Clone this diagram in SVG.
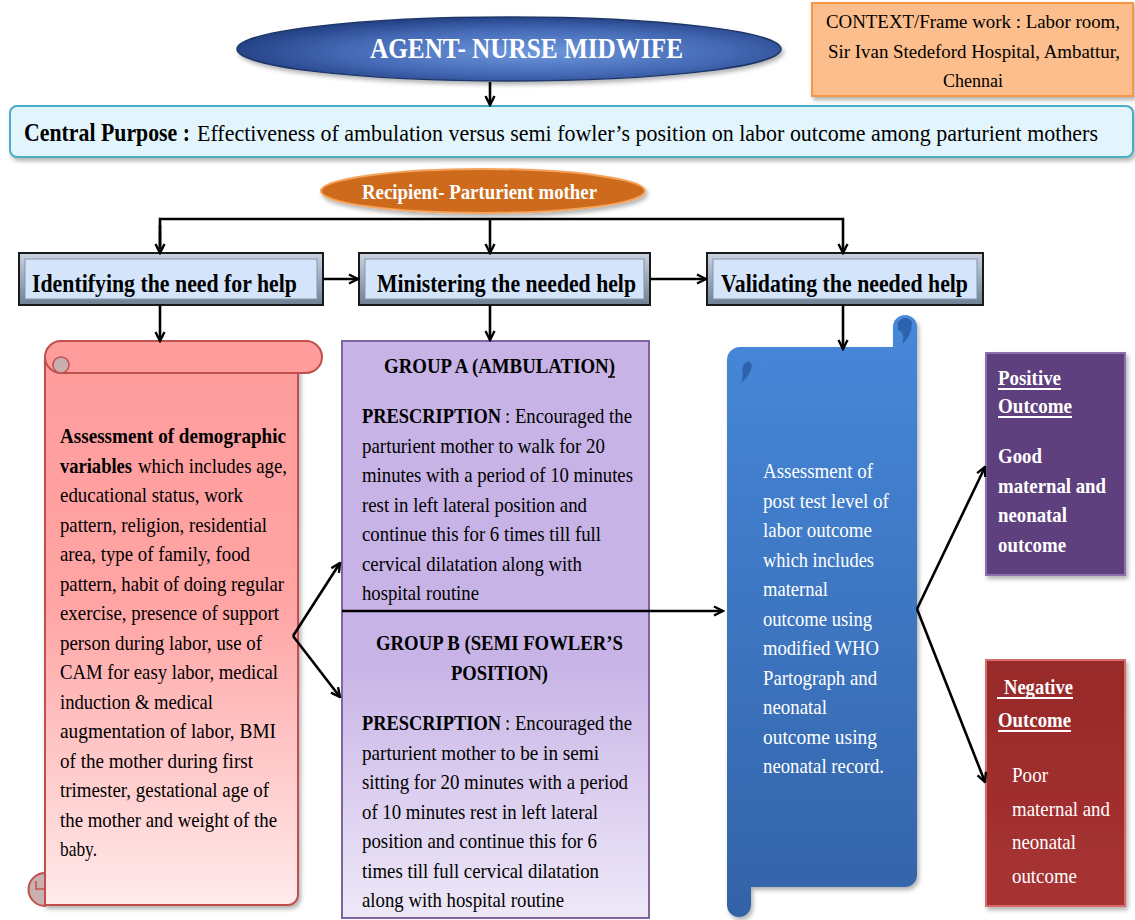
<svg xmlns="http://www.w3.org/2000/svg" width="1135" height="920" viewBox="0 0 1135 920">
<style>
  text { font-family: "Liberation Serif", "Times New Roman", serif; }
  .b { font-weight: bold; }
  .body { font-size: 22px; fill: #000; }
  .wbody { font-size: 22px; fill: #fff; }
  .proc { font-size: 25px; font-weight: bold; fill: #000; }
  .conn { fill: none; stroke: #000; stroke-width: 2.6; }
  .ul { stroke: #fff; stroke-width: 2; }
</style>
<defs>
  <marker id="ah" viewBox="0 0 12 12" refX="10.5" refY="6" markerWidth="12" markerHeight="12" markerUnits="userSpaceOnUse" orient="auto">
    <path d="M1.5,1.5 L10.5,6 L1.5,10.5" fill="none" stroke="#000" stroke-width="2.4" stroke-linejoin="miter"/>
  </marker>
  <radialGradient id="gAgent" cx="0.55" cy="0.55" r="0.6">
    <stop offset="0" stop-color="#6d98dd"/>
    <stop offset="0.6" stop-color="#4468b4"/>
    <stop offset="1" stop-color="#1d3a7c"/>
  </radialGradient>
  <linearGradient id="gRed" x1="0" y1="0" x2="0" y2="1">
    <stop offset="0" stop-color="#ff9c9c"/>
    <stop offset="0.45" stop-color="#ffa4a4"/>
    <stop offset="1" stop-color="#ffeaeb"/>
  </linearGradient>
  <linearGradient id="gPurple" x1="0" y1="0" x2="0" y2="1">
    <stop offset="0" stop-color="#c7b3e6"/>
    <stop offset="0.55" stop-color="#c7b3e6"/>
    <stop offset="1" stop-color="#eee8f8"/>
  </linearGradient>
  <linearGradient id="gBlue" x1="0" y1="0" x2="0" y2="1">
    <stop offset="0" stop-color="#4788da"/>
    <stop offset="1" stop-color="#3363a8"/>
  </linearGradient>
  <linearGradient id="gNeg" x1="0" y1="0" x2="0" y2="1">
    <stop offset="0" stop-color="#972a2a"/>
    <stop offset="1" stop-color="#a83232"/>
  </linearGradient>
  <linearGradient id="gBevel" x1="0" y1="0" x2="0" y2="1">
    <stop offset="0" stop-color="#c9d3de"/>
    <stop offset="1" stop-color="#6f7f92"/>
  </linearGradient>
  <filter id="sh" x="-10%" y="-10%" width="120%" height="130%">
    <feDropShadow dx="2" dy="3" stdDeviation="2" flood-color="#000" flood-opacity="0.3"/>
  </filter>
</defs>

<g id="agent">
  <ellipse cx="509" cy="49" rx="272" ry="32" fill="url(#gAgent)" stroke="#1f3768" stroke-width="1.5" filter="url(#sh)"/>
  <text x="370" y="58" class="b" font-size="29" fill="#fff" textLength="313" lengthAdjust="spacingAndGlyphs">AGENT- NURSE MIDWIFE</text>
</g>

<g id="context">
  <rect x="812" y="3" width="321" height="93" fill="#fbbe8c" stroke="#f79646" stroke-width="2" filter="url(#sh)"/>
  <text x="826" y="28" font-size="19.5" textLength="294" lengthAdjust="spacingAndGlyphs">CONTEXT/Frame work : Labor room,</text>
  <text x="828" y="58" font-size="19.5" textLength="292" lengthAdjust="spacingAndGlyphs">Sir Ivan Stedeford Hospital, Ambattur,</text>
  <text x="943" y="87" font-size="19.5" textLength="60" lengthAdjust="spacingAndGlyphs">Chennai</text>
</g>

<g id="purpose">
  <rect x="10" y="106" width="1123" height="51" rx="7" fill="#e2f5fd" stroke="#4bacc6" stroke-width="2" filter="url(#sh)"/>
  <text x="24" y="141" font-size="25" class="b" textLength="166" lengthAdjust="spacingAndGlyphs">Central Purpose :</text>
  <text x="197" y="141" font-size="24" textLength="901" lengthAdjust="spacingAndGlyphs">Effectiveness of ambulation versus semi fowler’s position on labor outcome among parturient mothers</text>
</g>

<g id="recipient">
  <ellipse cx="483" cy="191" rx="162" ry="22" fill="#cd6a1f" stroke="#f5a25a" stroke-width="2" filter="url(#sh)"/>
  <text x="362" y="199" class="b" font-size="21" fill="#fff" textLength="235" lengthAdjust="spacingAndGlyphs">Recipient- Parturient mother</text>
</g>

<g id="identifying">
  <rect x="19" y="253" width="304" height="52" fill="url(#gBevel)" stroke="#1a1a1a" stroke-width="2"/>
  <rect x="25" y="259" width="292" height="40" fill="#d4e5fb" stroke="#8395aa" stroke-width="1"/>
  <text x="32" y="292" class="proc" textLength="265" lengthAdjust="spacingAndGlyphs">Identifying the need for help</text>
</g>

<g id="ministering">
  <rect x="359" y="253" width="291" height="52" fill="url(#gBevel)" stroke="#1a1a1a" stroke-width="2"/>
  <rect x="365" y="259" width="279" height="40" fill="#d4e5fb" stroke="#8395aa" stroke-width="1"/>
  <text x="377" y="292" class="proc" textLength="259" lengthAdjust="spacingAndGlyphs">Ministering the needed help</text>
</g>

<g id="validating">
  <rect x="707" y="253" width="276" height="52" fill="url(#gBevel)" stroke="#1a1a1a" stroke-width="2"/>
  <rect x="713" y="259" width="264" height="40" fill="#d4e5fb" stroke="#8395aa" stroke-width="1"/>
  <text x="721" y="292" class="proc" textLength="247" lengthAdjust="spacingAndGlyphs">Validating the needed help</text>
</g>

<g id="assessment-scroll">
  <path d="M45,357 V905 H288 A10,10 0 0 0 298,895 V365 Z" fill="url(#gRed)" stroke="#c0504d" stroke-width="2" filter="url(#sh)"/>
  <rect x="45" y="341" width="277" height="32" rx="16" fill="#ff9d9d" stroke="#c0504d" stroke-width="2"/>
  <circle cx="61" cy="365" r="8" fill="#c9b0b0" stroke="#c0504d" stroke-width="1.5"/>
  <path d="M61,373 H298" fill="none" stroke="#c0504d" stroke-width="2"/>
  <path d="M45,873 A16.5,16.5 0 0 0 45,906 Z" fill="#c9b0b0" stroke="#c0504d" stroke-width="2"/>
  <path d="M45,889 H36 V881" fill="none" stroke="#c0504d" stroke-width="1.5"/>
  <g class="body">
    <text x="60" y="443" textLength="226" lengthAdjust="spacingAndGlyphs" class="b">Assessment of  demographic</text>
    <text x="60" y="472.5" textLength="72" lengthAdjust="spacingAndGlyphs" class="b">variables</text>
    <text x="138" y="472.5" textLength="149" lengthAdjust="spacingAndGlyphs">which includes age,</text>
    <text x="60" y="502" textLength="183" lengthAdjust="spacingAndGlyphs">educational status, work</text>
    <text x="60" y="531.5" textLength="207" lengthAdjust="spacingAndGlyphs">pattern, religion, residential</text>
    <text x="60" y="561" textLength="190" lengthAdjust="spacingAndGlyphs">area, type of family, food</text>
    <text x="60" y="590.5" textLength="224" lengthAdjust="spacingAndGlyphs">pattern, habit of doing regular</text>
    <text x="60" y="620" textLength="219" lengthAdjust="spacingAndGlyphs">exercise, presence of support</text>
    <text x="60" y="649.5" textLength="202" lengthAdjust="spacingAndGlyphs">person during labor, use of</text>
    <text x="60" y="679" textLength="218" lengthAdjust="spacingAndGlyphs">CAM for easy labor, medical</text>
    <text x="60" y="708.5" textLength="153" lengthAdjust="spacingAndGlyphs">induction &amp; medical</text>
    <text x="60" y="738" textLength="216" lengthAdjust="spacingAndGlyphs">augmentation of labor,  BMI</text>
    <text x="60" y="767.5" textLength="193" lengthAdjust="spacingAndGlyphs">of  the mother during first</text>
    <text x="60" y="797" textLength="209" lengthAdjust="spacingAndGlyphs">trimester, gestational age of</text>
    <text x="60" y="826.5" textLength="217" lengthAdjust="spacingAndGlyphs">the mother and weight of the</text>
    <text x="60" y="856" textLength="37" lengthAdjust="spacingAndGlyphs">baby.</text>
  </g>
</g>

<g id="groups">
  <rect x="342" y="341" width="307" height="577" fill="url(#gPurple)" stroke="#8064a2" stroke-width="2"/>
  <g class="body">
    <text x="384" y="373" class="b" textLength="231" lengthAdjust="spacingAndGlyphs">GROUP A (AMBULATION)</text>
    <text x="362" y="423" class="b" textLength="139" lengthAdjust="spacingAndGlyphs">PRESCRIPTION</text>
    <text x="505" y="423" textLength="127" lengthAdjust="spacingAndGlyphs">: Encouraged the</text>
    <text x="362" y="452.5" textLength="243" lengthAdjust="spacingAndGlyphs">parturient mother to walk for 20</text>
    <text x="362" y="482" textLength="271" lengthAdjust="spacingAndGlyphs">minutes with a period of 10 minutes</text>
    <text x="362" y="511.5" textLength="225" lengthAdjust="spacingAndGlyphs">rest in left lateral position and</text>
    <text x="362" y="541" textLength="239" lengthAdjust="spacingAndGlyphs">continue this for 6 times till full</text>
    <text x="362" y="570.5" textLength="220" lengthAdjust="spacingAndGlyphs">cervical dilatation along with</text>
    <text x="362" y="600" textLength="117" lengthAdjust="spacingAndGlyphs">hospital routine</text>
    <text x="376" y="650" class="b" textLength="247" lengthAdjust="spacingAndGlyphs">GROUP B (SEMI FOWLER’S</text>
    <text x="451" y="680" class="b" textLength="97" lengthAdjust="spacingAndGlyphs">POSITION)</text>
    <text x="362" y="730" class="b" textLength="139" lengthAdjust="spacingAndGlyphs">PRESCRIPTION</text>
    <text x="505" y="730" textLength="127" lengthAdjust="spacingAndGlyphs">: Encouraged the</text>
    <text x="362" y="759.5" textLength="237" lengthAdjust="spacingAndGlyphs">parturient  mother to be in semi</text>
    <text x="362" y="789" textLength="266" lengthAdjust="spacingAndGlyphs">sitting for 20 minutes with a period</text>
    <text x="362" y="818.5" textLength="236" lengthAdjust="spacingAndGlyphs">of 10 minutes rest in left lateral</text>
    <text x="362" y="848" textLength="235" lengthAdjust="spacingAndGlyphs">position and continue this for 6</text>
    <text x="362" y="877.5" textLength="237" lengthAdjust="spacingAndGlyphs">times till full cervical dilatation</text>
    <text x="362" y="907" textLength="202" lengthAdjust="spacingAndGlyphs">along with hospital routine</text>
  </g>
  <line x1="608" y1="377" x2="615" y2="377" stroke="#000" stroke-width="1.5"/>
</g>

<g id="validation-scroll">
  <path d="M727,360 A13,13 0 0 1 740,347 H893 V327 A12,12 0 0 1 917,327 V875 A12,12 0 0 1 905,887 H751 V905 A12,12 0 0 1 727,905 Z" fill="url(#gBlue)" filter="url(#sh)"/>
  <path d="M898,322 Q906,314 912,322 Q912,336 902,344 Q906,333 898,330 Z" fill="#2d62ad"/>
  <path d="M744,364 Q750,358 752,366 Q750,376 741,383 Q744,374 742,370 Z" fill="#2d62ad"/>
  <g class="wbody">
    <text x="763" y="478" textLength="110" lengthAdjust="spacingAndGlyphs">Assessment of</text>
    <text x="763" y="507.5" textLength="126" lengthAdjust="spacingAndGlyphs">post test level of</text>
    <text x="763" y="537" textLength="109" lengthAdjust="spacingAndGlyphs">labor outcome</text>
    <text x="763" y="566.5" textLength="111" lengthAdjust="spacingAndGlyphs">which includes</text>
    <text x="763" y="596" textLength="65" lengthAdjust="spacingAndGlyphs">maternal</text>
    <text x="763" y="625.5" textLength="109" lengthAdjust="spacingAndGlyphs">outcome using</text>
    <text x="763" y="655" textLength="116" lengthAdjust="spacingAndGlyphs">modified WHO</text>
    <text x="763" y="684.5" textLength="114" lengthAdjust="spacingAndGlyphs">Partograph and</text>
    <text x="763" y="714" textLength="64" lengthAdjust="spacingAndGlyphs">neonatal</text>
    <text x="763" y="743.5" textLength="114" lengthAdjust="spacingAndGlyphs">outcome  using</text>
    <text x="763" y="773" textLength="121" lengthAdjust="spacingAndGlyphs">neonatal record.</text>
  </g>
</g>

<g id="positive">
  <rect x="986" y="353" width="139" height="222" fill="#5e3f7e" stroke="#8a6fae" stroke-width="2" filter="url(#sh)"/>
  <g class="wbody b">
    <text x="998" y="385" textLength="63" lengthAdjust="spacingAndGlyphs">Positive</text>
    <text x="998" y="413" textLength="74" lengthAdjust="spacingAndGlyphs">Outcome</text>
    <text x="998" y="463" textLength="44" lengthAdjust="spacingAndGlyphs">Good</text>
    <text x="998" y="493" textLength="108" lengthAdjust="spacingAndGlyphs">maternal and</text>
    <text x="998" y="522" textLength="69" lengthAdjust="spacingAndGlyphs">neonatal</text>
    <text x="998" y="552" textLength="68" lengthAdjust="spacingAndGlyphs">outcome</text>
  </g>
  <line class="ul" x1="998" y1="389" x2="1061" y2="389"/>
  <line class="ul" x1="998" y1="417" x2="1072" y2="417"/>
</g>

<g id="negative">
  <rect x="986" y="660" width="139" height="246" fill="url(#gNeg)" stroke="#d96a6a" stroke-width="2" filter="url(#sh)"/>
  <g class="wbody">
    <text x="1004" y="694" class="b" textLength="69" lengthAdjust="spacingAndGlyphs">Negative</text>
    <text x="998" y="727" class="b" textLength="73" lengthAdjust="spacingAndGlyphs">Outcome</text>
    <text x="1012" y="782" textLength="36" lengthAdjust="spacingAndGlyphs">Poor</text>
    <text x="1012" y="815.5" textLength="98" lengthAdjust="spacingAndGlyphs">maternal and</text>
    <text x="1012" y="849" textLength="64" lengthAdjust="spacingAndGlyphs">neonatal</text>
    <text x="1012" y="882.5" textLength="65" lengthAdjust="spacingAndGlyphs">outcome</text>
  </g>
  <line class="ul" x1="997" y1="698" x2="1073" y2="698"/>
  <line class="ul" x1="998" y1="731" x2="1071" y2="731"/>
</g>

<g id="connectors">
  <line class="conn" x1="490" y1="82" x2="490" y2="105" marker-end="url(#ah)"/>
  <polyline class="conn" points="160,253 160,219 843,219 843,253" marker-end="url(#ah)"/>
  <line class="conn" x1="160" y1="225" x2="160" y2="253" marker-end="url(#ah)"/>
  <line class="conn" x1="490" y1="219" x2="490" y2="253" marker-end="url(#ah)"/>
  <line class="conn" x1="323" y1="279" x2="358" y2="279" marker-end="url(#ah)"/>
  <line class="conn" x1="650" y1="279" x2="706" y2="279" marker-end="url(#ah)"/>
  <line class="conn" x1="160" y1="305" x2="160" y2="341" marker-end="url(#ah)"/>
  <line class="conn" x1="490" y1="305" x2="490" y2="340" marker-end="url(#ah)"/>
  <line class="conn" x1="843" y1="305" x2="843" y2="349" marker-end="url(#ah)"/>
  <line class="conn" x1="293" y1="636" x2="340" y2="563" marker-end="url(#ah)"/>
  <line class="conn" x1="293" y1="636" x2="340" y2="697" marker-end="url(#ah)"/>
  <line class="conn" x1="342" y1="611" x2="723" y2="611" stroke-width="3.2" marker-end="url(#ah)"/>
  <line class="conn" x1="917" y1="609" x2="985" y2="467" marker-end="url(#ah)"/>
  <line class="conn" x1="917" y1="609" x2="985" y2="782" marker-end="url(#ah)"/>
</g>
</svg>
